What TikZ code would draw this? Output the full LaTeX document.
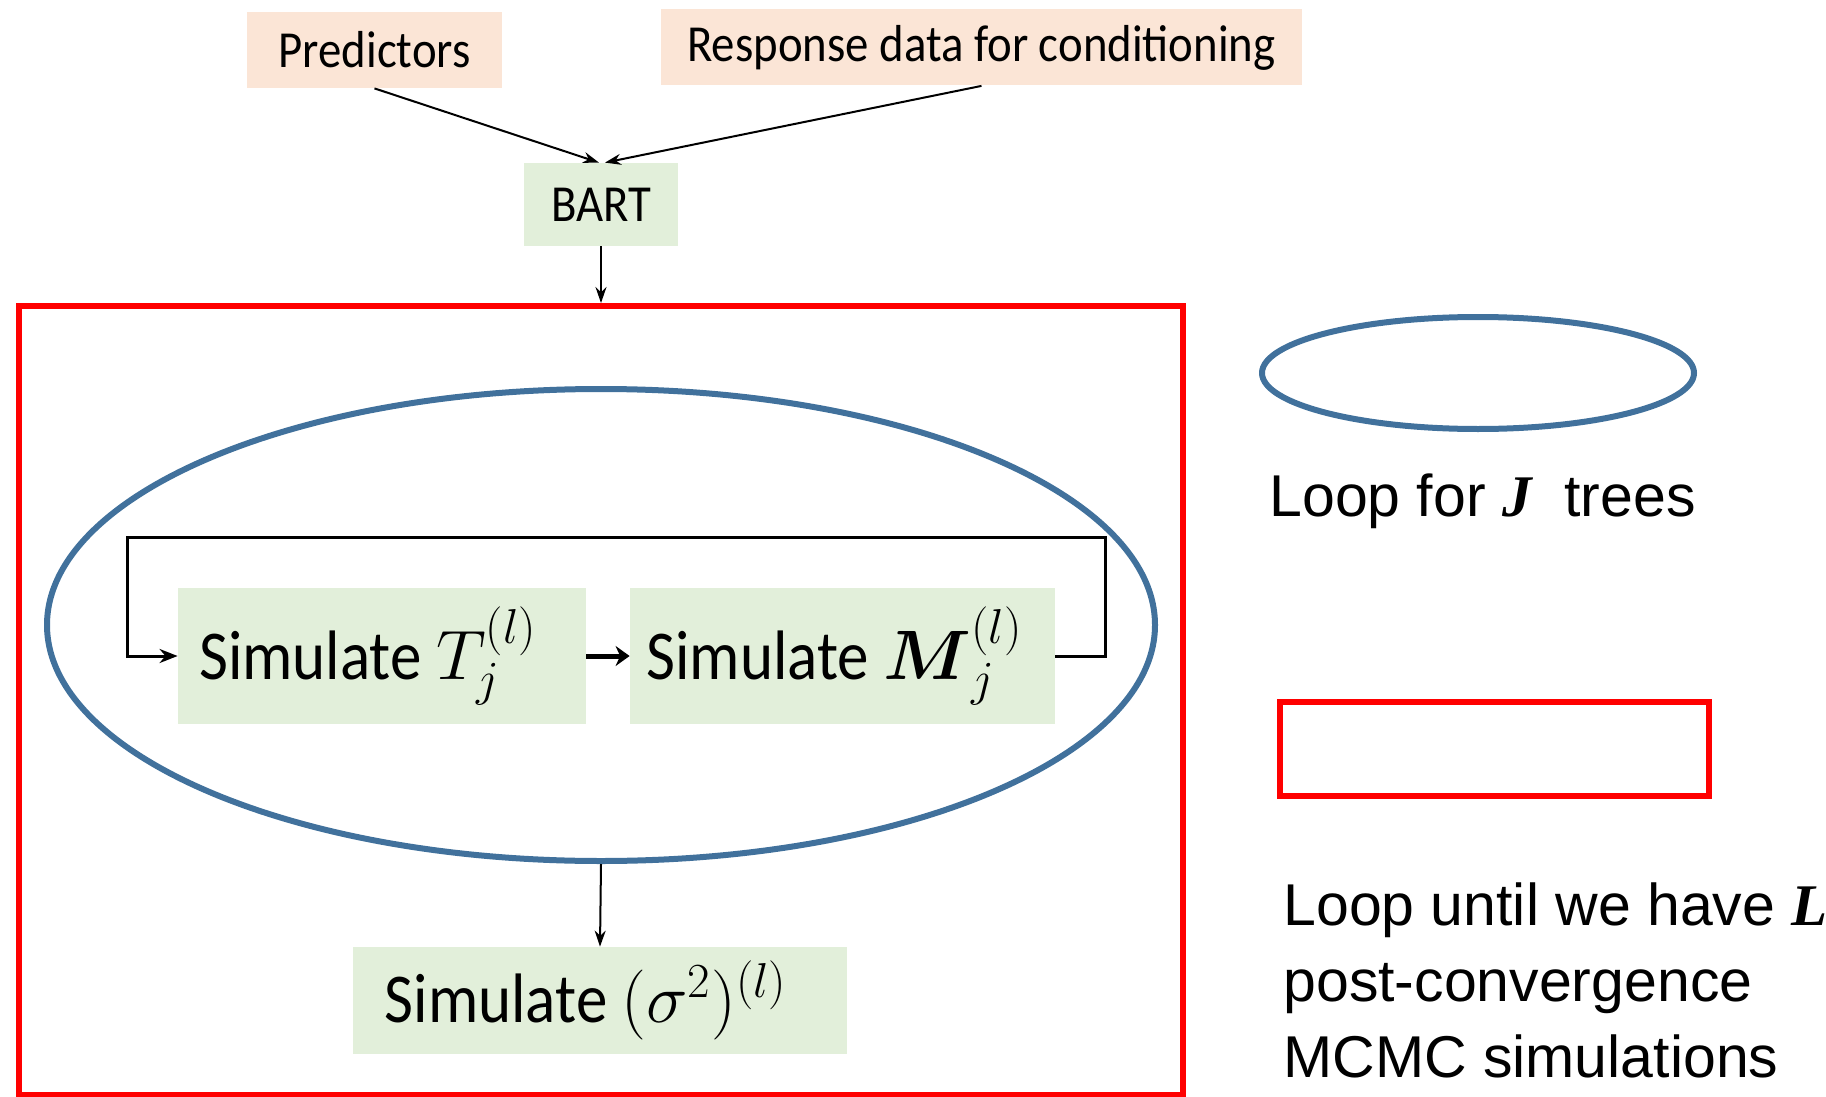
\RequirePackage{fix-cm}
\documentclass[tikz,border=0pt]{standalone}
\usepackage{amsmath}
\usepackage{fontspec}
\setmainfont{Carlito}[FakeStretch=0.9]
\newfontfamily\legendfont{Liberation Sans}
\newfontfamily\letterfont{Liberation Serif}
\newcommand{\keyletter}[1]{{\letterfont\bfseries\itshape #1}}
\usetikzlibrary{shapes.geometric,arrows.meta}
\definecolor{inputfill}{RGB}{251,229,214}
\definecolor{stepfill}{RGB}{226,239,218}
\definecolor{loopblue}{RGB}{65,113,156}

\begin{document}
\begin{tikzpicture}[x=0.5pt, y=-0.5pt, >={Stealth[length=8pt,width=5.5pt]},
        inbox/.style={fill=inputfill, minimum height=38pt, inner sep=0pt, font=\fontsize{26pt}{30pt}\selectfont},
        simbox/.style={fill=stepfill, inner sep=0pt, font=\fontsize{35pt}{40pt}\selectfont},
        flow/.style={->, line width=1pt},
        legend/.style={inner sep=0pt, align=left, font=\legendfont\fontsize{29.5pt}{38pt}\selectfont}]
    \useasboundingbox (0,0) rectangle (1826,1097);

    \node[inbox, minimum width=127.5pt] (pred) at (374.5,50) {Predictors};
    \node[inbox, minimum width=320.5pt] (resp) at (981.5,47.5) {Response data for conditioning};
    \node[simbox, minimum width=77pt, minimum height=41.5pt, font=\fontsize{26pt}{30pt}\selectfont] (bart) at (601,204.5) {BART};

    \node[draw=red, line width=3pt, minimum width=582pt, minimum height=394.5pt] (mcmc) at (601,700.5) {};
    \node[draw=loopblue, line width=3pt, ellipse, minimum width=554pt, minimum height=236pt] (trees) at (601,625) {};

    \node[simbox, minimum width=204pt, minimum height=68pt] (simT) at (382,656) {Simulate $T_j^{(l)}$\kern14pt};
    \node[simbox, minimum width=212.5pt, minimum height=68pt] (simM) at (842.5,656) {Simulate $\boldsymbol{M}_j^{(l)}$\kern8pt};
    \node[simbox, minimum width=247pt, minimum height=53.5pt] (simS) at (600,1000.5) {Simulate $(\sigma^2)^{(l)}$\kern14pt};

    \coordinate (topR) at (1105,537);
    \coordinate (topL) at (127,537);

    \draw[flow] (pred.south) -- ([xshift=-1pt]bart.north);
    \draw[flow] (resp.south) -- ([xshift=2pt]bart.north);
    \draw[flow] (bart.south) -- (mcmc.north);
    \draw[->, line width=2.5pt, >={Stealth[length=7pt,width=10pt]}] (simT.east) -- (simM.west);
    \draw[->, line width=1.5pt, >={Stealth[length=9pt,width=7pt]}] (simM.east) -| (topR) -- (topL) |- (simT.west);
    \draw[flow] (trees.south) -- (simS.north);

    \node[draw=loopblue, line width=3pt, ellipse, minimum width=216pt, minimum height=56pt] (treeskey) at (1478,373) {};
    \node[legend, anchor=base west] (treestext) at (1269,516) {Loop for \keyletter{J}\ \ trees};
    \node[draw=red, line width=3pt, minimum width=214.5pt, minimum height=47pt] (mcmckey) at (1494.5,749) {};
    \node[legend, anchor=north west] (mcmctext) at (1283,882) {Loop until we have \keyletter{L}\\post-convergence\\MCMC simulations};
\end{tikzpicture}
\end{document}
